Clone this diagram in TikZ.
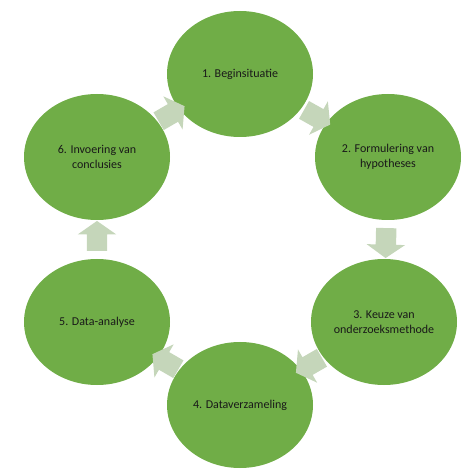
\documentclass[tikz,border=0pt]{standalone}
\usepackage{fontspec}
\setmainfont{Carlito}
\usetikzlibrary{shapes.geometric,shapes.arrows}

\definecolor{stapgroen}{RGB}{112,173,71}
\definecolor{pijlgroen}{RGB}{197,214,186}

\begin{document}
\begin{tikzpicture}[x=1pt,y=-1pt,
    stap/.style={ellipse, fill=stapgroen, minimum width=146pt, minimum height=126pt,
                 inner sep=0pt, align=center, font=\fontsize{12}{15}\selectfont, text=black!90},
    pijl/.style={single arrow, fill=pijlgroen, minimum height=30pt, text height=20pt,
                 text depth=0pt, text width=0pt, single arrow head extend=9pt,
                 single arrow tip angle=110, inner sep=0pt, sloped, allow upside down}]
            \useasboundingbox (0,0) rectangle (474,470);

            % de zes stappen
            \node[stap] (s1) at (240,74)  {1. Beginsituatie};
            \node[stap] (s2) at (388,157) {2. Formulering van\\hypotheses};
            \node[stap] (s3) at (384,322) {3. Keuze van\\onderzoeksmethode};
            \node[stap] (s4) at (240,405) {4. Dataverzameling};
            \node[stap] (s5) at (97,322)  {5. Data-analyse};
            \node[stap] (s6) at (97,157)  {6. Invoering van\\conclusies};

             %pijlen
                 \foreach \a/\b in {s1/s2,s2/s3,s3/s4,s4/s5,s5/s6,s6/s1}
                     \path (\a) -- node[pijl] {} (\b);
\end{tikzpicture}
\end{document}
